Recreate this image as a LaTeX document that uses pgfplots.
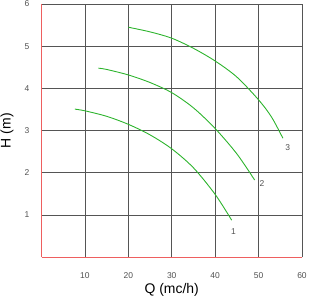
\documentclass[border=0pt]{standalone}
\usepackage{fontspec}
\setmainfont{Liberation Sans}
\usepackage{pgfplots}
\pgfplotsset{compat=1.18}
\definecolor{curvegreen}{RGB}{45,180,45}
\definecolor{axred}{RGB}{238,95,95}
\definecolor{gridgray}{RGB}{85,85,85}
\definecolor{ticktext}{RGB}{80,80,80}
\begin{document}
\begin{tikzpicture}
\path[use as bounding box] (-41.5bp,-44.7bp) rectangle (279.5bp,257.3bp);
\begin{axis}[
  at={(0,0)}, anchor=origin,
  scale only axis,
  width=260.5bp, height=253.3bp,
  xmin=0, xmax=60, ymin=0, ymax=6,
  axis x line*=bottom, axis y line*=left,
  axis line style={-, draw=axred, line width=1.4bp},
  xtick={10,20,30,40,50,60},
  ytick={1,2,3,4,5,6},
  major tick length=0pt,
  grid=major,
  major grid style={gridgray, line width=0.8bp},
  /pgf/number format/assume math mode=true,
  tick label style={font=\fontsize{8.5}{10}\selectfont, text=ticktext},
  xticklabel style={anchor=center, yshift=-18bp},
  yticklabel style={anchor=center, xshift=-14.5bp},
  xlabel={Q (mc/h)},
  ylabel={H (m)},
  label style={font=\fontsize{14}{16}\selectfont},
  xlabel style={at={(axis description cs:0.5,0)}, anchor=center, yshift=-32.7bp},
  ylabel style={at={(axis description cs:0,0.5)}, anchor=center, rotate=0, xshift=0bp, yshift=34.5bp},
  clip=false,
]
\addplot[curvegreen, line width=0.9bp, smooth, tension=0.5] coordinates {
 (7.7,3.51) (10,3.47) (15,3.34) (20,3.15) (25,2.90) (30,2.57) (35,2.12) (40,1.49) (43.8,0.88)};
\addplot[curvegreen, line width=0.9bp, smooth, tension=0.5] coordinates {
 (13.1,4.48) (15,4.45) (20,4.32) (25,4.14) (30,3.90) (35,3.54) (40,3.05) (45,2.45) (49.1,1.83)};
\addplot[curvegreen, line width=0.9bp, smooth, tension=0.5] coordinates {
 (20,5.45) (25,5.34) (30,5.19) (35,4.95) (40,4.65) (45,4.27) (50,3.73) (53,3.32) (55.6,2.82)};
\node[font=\fontsize{8.5}{10}\selectfont, text=ticktext] at (axis cs:44.2,0.62) {1};
\node[font=\fontsize{8.5}{10}\selectfont, text=ticktext] at (axis cs:50.8,1.74) {2};
\node[font=\fontsize{8.5}{10}\selectfont, text=ticktext] at (axis cs:56.7,2.61) {3};
\end{axis}
\end{tikzpicture}
\end{document}
